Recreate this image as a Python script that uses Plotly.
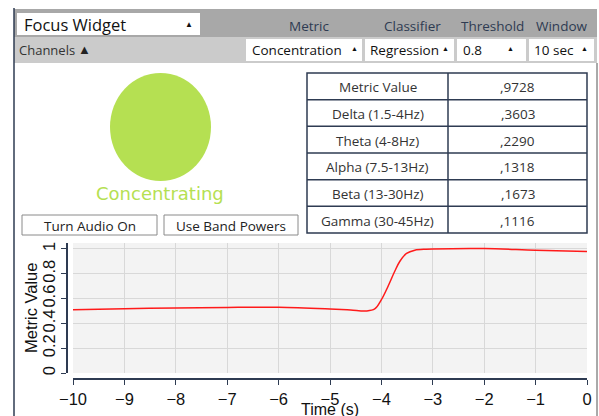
import plotly.graph_objects as go

# ---------------- data ----------------
time_s = [-10, -9, -8, -7, -6, -5, -4.6, -4.3, -4.13, -4.0, -3.87, -3.74, -3.64, -3.51, -3.35, -3.13, -3, -2, -1, 0]
metric_vals = [0.51, 0.518, 0.524, 0.529, 0.53, 0.516, 0.508, 0.50, 0.516, 0.591, 0.699, 0.82, 0.901, 0.964, 0.99, 0.998, 1.0, 1.003, 0.99, 0.98]

x_ticks = [-10, -9, -8, -7, -6, -5, -4, -3, -2, -1, 0]
y_ticks = [0, 0.2, 0.4, 0.6, 0.8, 1]
y_tick_labels = ["0", "0.2", "0.4", "0.6", "0.8", "1"]

table_labels = ["Metric Value", "Delta (1.5-4Hz)", "Theta (4-8Hz)", "Alpha (7.5-13Hz)", "Beta (13-30Hz)", "Gamma (30-45Hz)"]
table_values = [",9728", ",3603", ",2290", ",1318", ",1673", ",1116"]

header_labels = ["Metric", "Classifier", "Threshold", "Window"]
dropdown_labels = ["Concentration", "Regression", "0.8", "10 sec"]
button_labels = ["Turn Audio On", "Use Band Powers"]
status_text = "Concentrating"
widget_title = "Focus Widget"

# ---------------- layout helpers ----------------
W, H = 599, 416
def px(x):
    return x / W
def py(y):
    return 1 - y / H

NAVY = "#2e3b52"
GREEN = "#b5e052"
UI_FONT = "Open Sans"

shapes = []
annos = []

def rect(x0, y0, x1, y1, fill=None, line=None, lw=1):
    shapes.append(dict(type="rect", xref="paper", yref="paper",
                       x0=px(x0), x1=px(x1), y0=py(y1), y1=py(y0),
                       fillcolor=fill if fill else "rgba(0,0,0,0)",
                       line=dict(color=line if line else "rgba(0,0,0,0)", width=lw if line else 0)))

def seg(x0, y0, x1, y1, color, lw=1):
    shapes.append(dict(type="line", xref="paper", yref="paper",
                       x0=px(x0), x1=px(x1), y0=py(y0), y1=py(y1),
                       line=dict(color=color, width=lw)))

def text(x, y, s, size=13, color="#222", xanchor="center", family=UI_FONT, textangle=0):
    annos.append(dict(xref="paper", yref="paper", x=px(x), y=py(y), text=s,
                      showarrow=False, xanchor=xanchor, yanchor="middle",
                      font=dict(size=size, color=color, family=family), textangle=textangle))

# header bars
rect(14, 9, 597, 37, fill="#a8a8a8")
rect(14, 37, 597, 63, fill="#cbcbcb")
seg(14, 8, 14, 416, NAVY, 1.5)
seg(597, 63, 597, 416, "#555", 1)

# focus widget dropdown
rect(17, 13, 200, 35, fill="white")
text(22, 24, widget_title, size=16.5, color="#111", xanchor="left")
text(189, 23, "▲", size=8, color="#111")
text(17, 50, "Channels", size=13, color="#333", xanchor="left")
text(85, 49, "▲", size=13, color="#222")

# header labels
for lab, cx in zip(header_labels, [309, 412, 492, 562]):
    text(cx, 26, lab, size=13.5, color=NAVY)

# dropdowns
for lab, (x0, x1, tx, ax) in zip(dropdown_labels,
                                 [(246, 362, 250, 354), (365, 454, 368, 445), (457, 526, 461, 510), (529, 594, 532, 584)]):
    rect(x0, 39, x1, 61, fill="white")
    text(tx, 50, lab, size=13.5, color="#111", xanchor="left")
    text(ax, 48, "▲", size=7, color="#111")

# status circle
shapes.append(dict(type="circle", xref="paper", yref="paper",
                   x0=px(110), x1=px(211), y0=py(181), y1=py(73),
                   fillcolor=GREEN, line=dict(color=GREEN, width=0)))
text(160, 193, status_text, size=18, color=GREEN, family="DejaVu Sans")

# table
tx0, tx1, tdiv, ty0, ty1 = 307, 587, 448, 73, 233
rh = (ty1 - ty0) / len(table_labels)
rect(tx0, ty0, tx1, ty1, fill="white", line=NAVY, lw=1.5)
seg(tdiv, ty0, tdiv, ty1, NAVY, 1.5)
for i, (lab, val) in enumerate(zip(table_labels, table_values)):
    if i > 0:
        seg(tx0, ty0 + i * rh, tx1, ty0 + i * rh, NAVY, 1.5)
    cy = ty0 + (i + 0.5) * rh + 1
    text((tx0 + tdiv) / 2, cy, lab, size=13.5, color="#333")
    text((tdiv + tx1) / 2, cy, val, size=13.5, color="#333")

# buttons
for lab, (x0, x1) in zip(button_labels, [(22, 157), (164, 298)]):
    rect(x0, 215, x1, 235, fill="white", line="#8a8a8a", lw=1)
    text((x0 + x1) / 2, 225.5, lab, size=13.5, color="#222")

# axis titles
text(330, 409, "Time (s)", size=16, color="#111", family="Liberation Sans")
text(31, 308, "Metric Value", size=16.5, color="#111", family="Liberation Sans", textangle=-90)

fig = go.Figure()
fig.add_trace(go.Scatter(x=time_s, y=metric_vals, mode="lines",
                         line=dict(color="#ff1a1a", width=1.5, shape="spline"),
                         hoverinfo="skip", showlegend=False))

axis_font = dict(family="Liberation Sans", size=16.5, color="#111")
fig.update_layout(
    width=W, height=H, autosize=False,
    margin=dict(l=0, r=0, t=0, b=0, autoexpand=False),
    paper_bgcolor="white", plot_bgcolor="#f3f3f3",
    shapes=shapes, annotations=annos, showlegend=False,
    xaxis=dict(domain=[px(73), px(587)], range=[-10, 0], anchor="free", position=py(379),
               automargin=False,
               tickvals=x_ticks, ticks="outside", ticklen=5, tickcolor=NAVY,
               showline=True, linecolor=NAVY, linewidth=1.5,
               showgrid=True, gridcolor="#d8d8d8", gridwidth=1, zeroline=False,
               tickfont=axis_font),
    yaxis=dict(domain=[py(373), py(243)], range=[0, 1.048], anchor="free", position=px(67),
               automargin=False,
               tickvals=y_ticks, ticktext=y_tick_labels, tickangle=-90,
               ticks="outside", ticklen=5, tickcolor=NAVY,
               showline=True, linecolor=NAVY, linewidth=1.5,
               showgrid=True, gridcolor="#d8d8d8", gridwidth=1, zeroline=False,
               tickfont=axis_font),
)

fig.write_html("out.html", config={"displayModeBar": False},
               post_script="document.body.style.margin='0';document.body.style.overflow='hidden';")
